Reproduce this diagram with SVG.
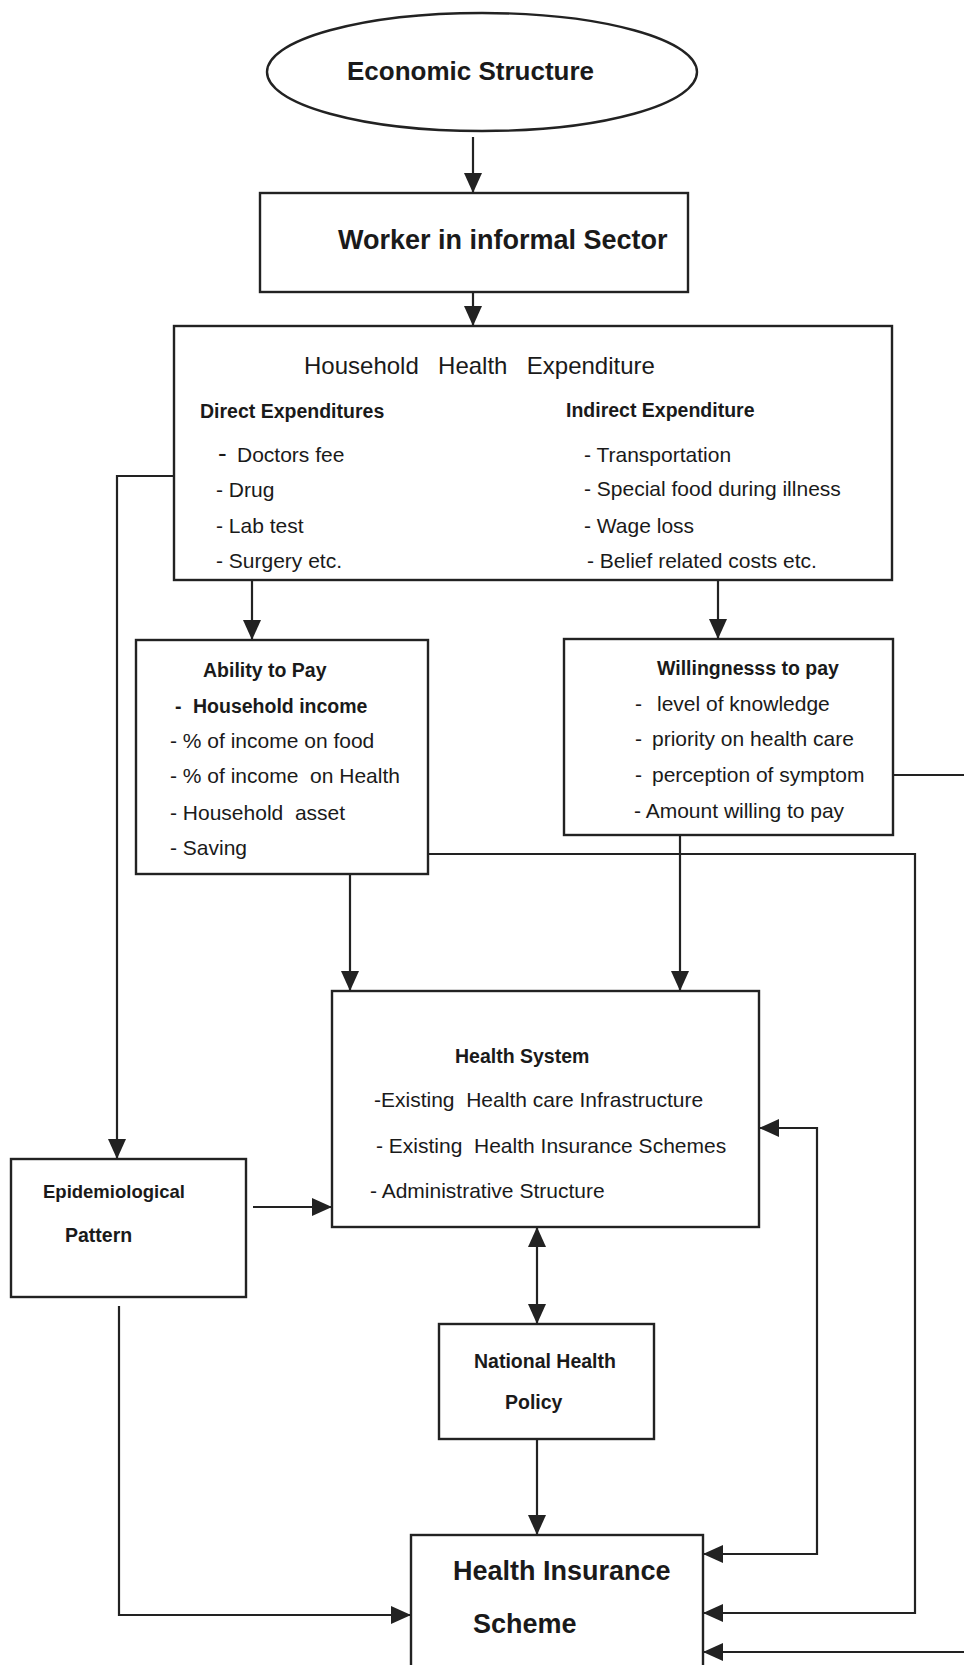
<svg xmlns="http://www.w3.org/2000/svg" width="964" height="1665" viewBox="0 0 964 1665">
<defs>
<style>
.box{fill:none;stroke:#222;stroke-width:2.4}
.ln{fill:none;stroke:#222;stroke-width:2.2}
text{font-family:"Liberation Sans",Arial,sans-serif;fill:#1a1a1a}
.r{font-size:21px}
.b{font-size:19.5px;font-weight:bold}
.bb{font-size:27px;font-weight:bold}
</style>
<marker id="ah" markerUnits="userSpaceOnUse" markerWidth="20" markerHeight="18" refX="20" refY="9" orient="auto-start-reverse">
<path d="M0,0 L20,9 L0,18 z" fill="#222"/>
</marker>
</defs>
<rect width="964" height="1665" fill="#fff"/>

<g id="connectors">
<path class="ln" d="M473,137 V193" marker-end="url(#ah)"/>
<path class="ln" d="M473,292 V326" marker-end="url(#ah)"/>
<path class="ln" d="M252,580 V640" marker-end="url(#ah)"/>
<path class="ln" d="M718,580 V639" marker-end="url(#ah)"/>
<path class="ln" d="M350,874 V991" marker-end="url(#ah)"/>
<path class="ln" d="M680,835 V991" marker-end="url(#ah)"/>
<path class="ln" d="M537,1227 V1324" marker-start="url(#ah)" marker-end="url(#ah)"/>
<path class="ln" d="M537,1439 V1535" marker-end="url(#ah)"/>
<path class="ln" d="M174,476 H117 V1159" marker-end="url(#ah)"/>
<path class="ln" d="M119,1306 V1615 H411" marker-end="url(#ah)"/>
<path class="ln" d="M253,1207 H332" marker-end="url(#ah)"/>
<path class="ln" d="M428,854 H915 V1613 H703" marker-end="url(#ah)"/>
<path class="ln" d="M759,1128 H817 V1554 H703" marker-start="url(#ah)" marker-end="url(#ah)"/>
<path class="ln" d="M893,775 H966"/>
<path class="ln" d="M966,1652 H703" marker-end="url(#ah)"/>
</g>

<g id="economic-structure">
<ellipse class="box" cx="482" cy="72" rx="215" ry="59"/>
<text class="bb" x="347" y="80" font-size="26" style="font-size:26px">Economic Structure</text>
</g>

<g id="worker">
<rect class="box" x="260" y="193" width="428" height="99"/>
<text class="bb" x="338" y="249">Worker in informal Sector</text>
</g>

<g id="household-health-expenditure">
<rect class="box" x="174" y="326" width="718" height="254"/>
<text x="304" y="374" xml:space="preserve" style="font-size:24px;word-spacing:3px">Household  Health  Expenditure</text>
<text class="b" x="200" y="418">Direct Expenditures</text>
<text class="b" x="566" y="417">Indirect Expenditure</text>
<text class="r" x="218" y="462" xml:space="preserve"><tspan style="font-size:26px">-</tspan> <tspan x="237">Doctors fee</tspan></text>
<text class="r" x="216" y="497">- Drug</text>
<text class="r" x="216" y="533">- Lab test</text>
<text class="r" x="216" y="568">- Surgery etc.</text>
<text class="r" x="584" y="462">- Transportation</text>
<text class="r" x="584" y="496">- Special food during illness</text>
<text class="r" x="584" y="533">- Wage loss</text>
<text class="r" x="587" y="568">- Belief related costs etc.</text>
</g>

<g id="ability-to-pay">
<rect class="box" x="136" y="640" width="292" height="234"/>
<text class="b" x="203" y="677">Ability to Pay</text>
<text class="b" x="175" y="713" xml:space="preserve">-  <tspan x="193">Household income</tspan></text>
<text class="r" x="170" y="748">- % of income on food</text>
<text class="r" x="170" y="783" xml:space="preserve">- % of income  on Health</text>
<text class="r" x="170" y="820" xml:space="preserve">- Household  asset</text>
<text class="r" x="170" y="855">- Saving</text>
</g>

<g id="willingness-to-pay">
<rect class="box" x="564" y="639" width="329" height="196"/>
<text class="b" x="657" y="675">Willingnesss to pay</text>
<text class="r" x="635" y="711" xml:space="preserve">-   <tspan x="657">level of knowledge</tspan></text>
<text class="r" x="635" y="746" xml:space="preserve">-  <tspan x="652">priority on health care</tspan></text>
<text class="r" x="635" y="782" xml:space="preserve">-  <tspan x="652">perception of symptom</tspan></text>
<text class="r" x="634" y="818">- Amount willing to pay</text>
</g>

<g id="health-system">
<rect class="box" x="332" y="991" width="427" height="236"/>
<text class="b" x="455" y="1063">Health System</text>
<text class="r" x="374" y="1107" xml:space="preserve">-Existing  Health care Infrastructure</text>
<text class="r" x="376" y="1153" xml:space="preserve">- Existing  Health Insurance Schemes</text>
<text class="r" x="370" y="1198">- Administrative Structure</text>
</g>

<g id="epidemiological-pattern">
<rect class="box" x="11" y="1159" width="235" height="138"/>
<text class="b" x="43" y="1198" style="font-size:18.5px">Epidemiological</text>
<text class="b" x="65" y="1242">Pattern</text>
</g>

<g id="national-health-policy">
<rect class="box" x="439" y="1324" width="215" height="115"/>
<text class="b" x="474" y="1368">National Health</text>
<text class="b" x="505" y="1409">Policy</text>
</g>

<g id="health-insurance-scheme">
<rect class="box" x="411" y="1535" width="292" height="150"/>
<text class="bb" x="453" y="1580">Health Insurance</text>
<text class="bb" x="473" y="1633">Scheme</text>
</g>
</svg>
